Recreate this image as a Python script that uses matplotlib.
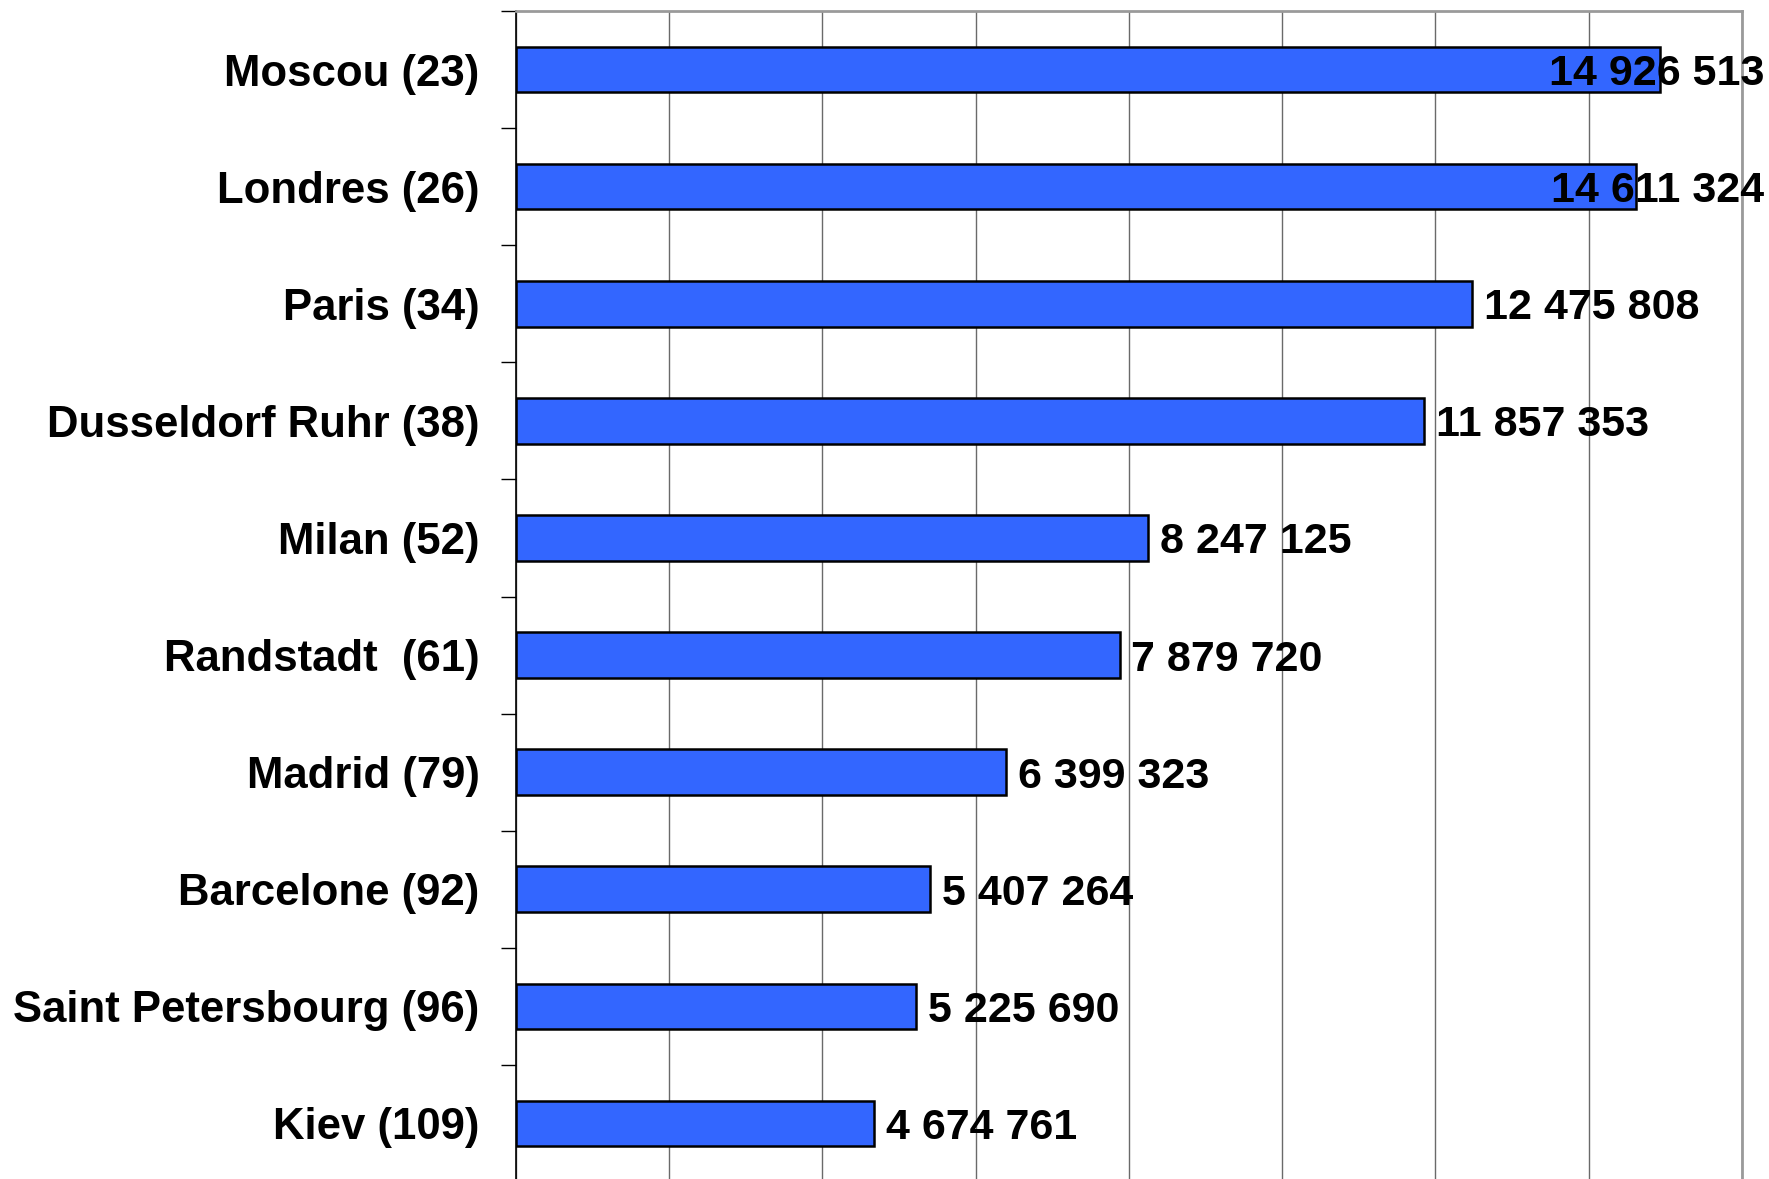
import matplotlib
matplotlib.use("Agg")
import matplotlib.pyplot as plt
from matplotlib.ticker import MultipleLocator, FixedLocator, NullFormatter

cities = ["Moscou (23)", "Londres (26)", "Paris (34)", "Dusseldorf Ruhr (38)",
          "Milan (52)", "Randstadt  (61)", "Madrid (79)", "Barcelone (92)",
          "Saint Petersbourg (96)", "Kiev (109)"]
population = [14926513, 14611324, 12475808, 11857353, 8247125,
              7879720, 6399323, 5407264, 5225690, 4674761]

plt.rcParams["font.family"] = ["Liberation Sans", "DejaVu Sans"]

W, H, DPI = 1769, 1179, 100
fig = plt.figure(figsize=(W / DPI, H / DPI), dpi=DPI)
ax = fig.add_axes([515.6 / W, -3 / H, (1742 - 515.6) / W, (1168 + 3) / H])

y = list(range(len(cities)))
ax.barh(y, population, height=0.39, color="#3366FF", edgecolor="black",
        linewidth=1.8, zorder=3)

ax.set_xlim(0, 16e6)
ax.set_ylim(len(cities) - 0.5, -0.5)

ax.xaxis.set_major_locator(MultipleLocator(2e6))
ax.xaxis.set_major_formatter(NullFormatter())
ax.tick_params(axis="x", length=0)
ax.grid(axis="x", color="#6a6a6a", linewidth=1.0, zorder=0)

ax.set_yticks(y)
ax.set_yticklabels(cities, fontsize=31.5, fontweight="bold")
ax.tick_params(axis="y", which="major", length=0, pad=26)
ax.yaxis.set_minor_locator(FixedLocator([i - 0.5 for i in range(len(cities) + 1)]))
ax.tick_params(axis="y", which="minor", length=11, width=1.0, color="black")

for side in ("top", "right"):
    ax.spines[side].set_color("#9a9a9a")
    ax.spines[side].set_linewidth(2.0)
ax.spines["left"].set_color("black")
ax.spines["left"].set_linewidth(1.2)
ax.spines["bottom"].set_visible(False)

# value labels just right of each bar, pulled back inside the figure if needed
fig.canvas.draw()
renderer = fig.canvas.get_renderer()
limit = W - 5
for yi, v in zip(y, population):
    label = f"{v:,}".replace(",", " ")
    t = ax.annotate(label, xy=(v, yi), xytext=(8.5, 0), textcoords="offset points",
                    ha="left", va="center_baseline", fontsize=31, fontweight="bold",
                    color="black", zorder=5, annotation_clip=False)
    bb = t.get_window_extent(renderer)
    if bb.x1 > limit:
        t.set_position((8.5 - (bb.x1 - limit) * 72 / DPI, 0))

fig.savefig("out.png", dpi=DPI)
